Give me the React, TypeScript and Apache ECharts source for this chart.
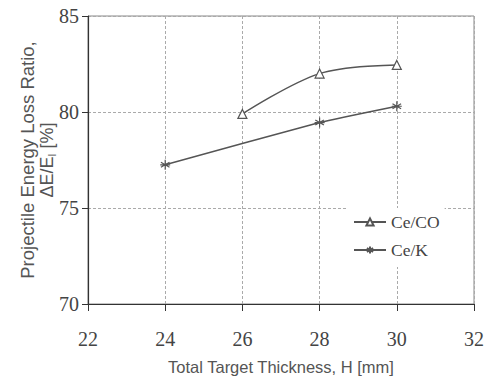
import React, { useEffect, useRef } from "react";
import * as echarts from "echarts";

const ceCO: [number, number][] = [
  [26, 79.9],
  [28, 82.0],
  [30, 82.45],
];
const ceK: [number, number][] = [
  [24, 77.25],
  [28, 79.45],
  [30, 80.3],
];
const seriesNames = ["Ce/CO", "Ce/K"];
const xName = "Total Target Thickness, H [mm]";

const asterisk =
  "path://M5,0L5,10M0.7,2.5L9.3,7.5M0.7,7.5L9.3,2.5M0,5L10,5";

export default function App() {
  const ref = useRef<HTMLDivElement>(null);
  useEffect(() => {
    if (!ref.current) return;
    const chart = echarts.init(ref.current, null, { renderer: "svg" });
    const serif = "'Liberation Serif', 'DejaVu Serif', serif";
    const sans = "'Liberation Sans', Arial, sans-serif";
    chart.setOption({
      animation: false,
      backgroundColor: "#fff",
      grid: { left: 88, right: 16, top: 16, bottom: 88, show: true, borderColor: "#888", borderWidth: 1 },
      xAxis: {
        type: "value",
        min: 22,
        max: 32,
        interval: 2,
        name: xName,
        nameLocation: "middle",
        nameGap: 54,
        nameTextStyle: { fontFamily: sans, fontSize: 16.5, color: "#555" },
        axisLine: { show: true, lineStyle: { color: "#333", width: 1.2 } },
        axisTick: { show: true, inside: false, length: 7, lineStyle: { color: "#333" } },
        axisLabel: { fontFamily: serif, fontSize: 20, color: "#444", margin: 25 },
        splitLine: { show: true, lineStyle: { color: "#aaa", type: [3, 2], width: 1 } },
      },
      yAxis: {
        type: "value",
        min: 70,
        max: 85,
        interval: 5,
        axisLine: { show: true, lineStyle: { color: "#333", width: 1.2 } },
        axisTick: { show: true, inside: false, length: 6, lineStyle: { color: "#333" } },
        axisLabel: { fontFamily: serif, fontSize: 20, color: "#444", margin: 9 },
        splitLine: { show: true, lineStyle: { color: "#aaa", type: [3, 2], width: 1 } },
      },
      legend: {
        show: true,
        orient: "vertical",
        left: 348,
        top: 208,
        itemGap: 10,
        itemWidth: 32,
        itemHeight: 9,
        backgroundColor: "#fff",
        padding: [5, 5, 8, 5],
        textStyle: { fontFamily: serif, fontSize: 17.5, color: "#444" },
        data: seriesNames,
      },
      graphic: [
        {
          type: "text",
          x: 37,
          y: 160,
          rotation: Math.PI / 2,
          style: {
            text: "Projectile Energy Loss Ratio,\n{a|ΔE/E}{s|I}{a| [%]}",
            fontFamily: sans,
            fontSize: 18.5,
            fill: "#555",
            align: "center",
            verticalAlign: "middle",
            lineHeight: 20,
            rich: {
              a: { fontFamily: sans, fontSize: 18, fill: "#555", lineHeight: 20 },
              s: { fontFamily: sans, fontSize: 10, fill: "#555", lineHeight: 20, verticalAlign: "bottom", padding: [8, 0, 0, 0] },
            },
          },
        },
      ],
      series: [
        {
          name: seriesNames[0],
          type: "line",
          data: ceCO,
          smooth: 0.35,
          symbol: "triangle",
          symbolSize: 9,
          lineStyle: { color: "#555", width: 1.5 },
          itemStyle: { color: "#fff", borderColor: "#555", borderWidth: 1.2 },
        },
        {
          name: seriesNames[1],
          type: "line",
          data: ceK,
          smooth: 0.15,
          symbol: asterisk,
          symbolSize: 10,
          lineStyle: { color: "#555", width: 1.5 },
          itemStyle: { color: "#555", borderColor: "#555", borderWidth: 1.2 },
        },
      ],
    });
    return () => chart.dispose();
  }, []);
  return (
    <div
      ref={ref}
      style={{ position: "absolute", left: 0, top: 0, width: 490, height: 392 }}
    />
  );
}
